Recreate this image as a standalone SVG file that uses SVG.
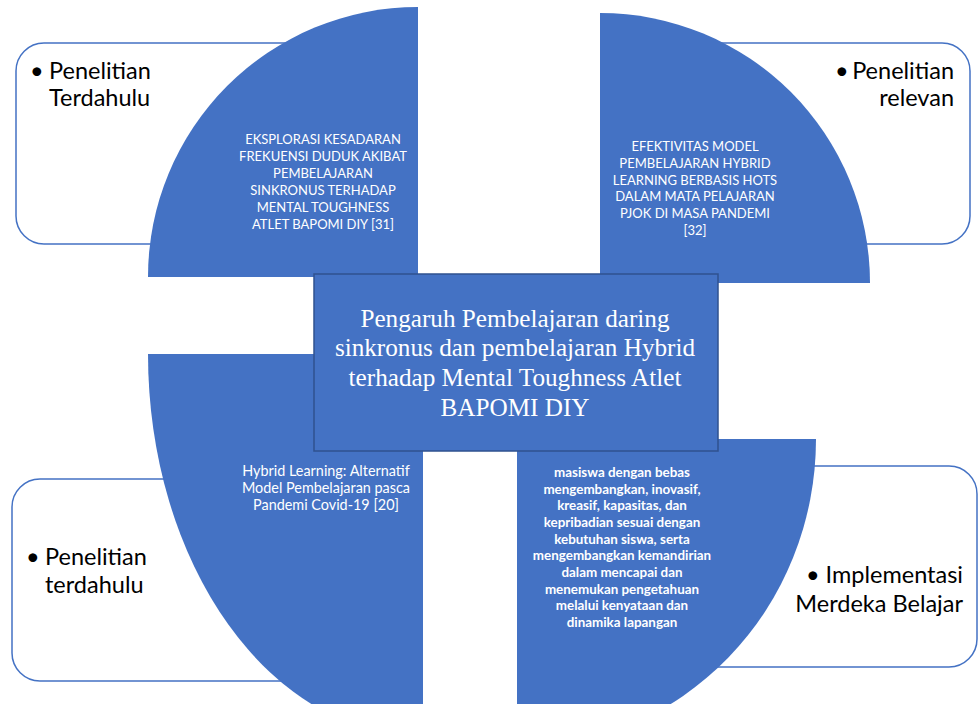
<svg xmlns="http://www.w3.org/2000/svg" width="979" height="704" viewBox="0 0 979 704">
<style>
.box{fill:#ffffff;stroke:#4472C4;stroke-width:1.5}
.sector{fill:#4472C4;stroke:none}
.lbl{font-family:Lato,"Liberation Sans",sans-serif;font-size:23.5px;fill:#000000}
.st{font-family:Lato,"Liberation Sans",sans-serif;font-size:13px;fill:#ffffff;text-anchor:middle}
.sl{font-size:14.4px}
.stb{font-weight:bold;font-size:13.4px}
.ct{font-family:"Liberation Serif","Times New Roman",serif;font-size:25.2px;fill:#ffffff;text-anchor:middle}
</style>
<rect width="979" height="704" fill="#ffffff"/>
<g id="box-tl">
<rect class="box" x="16" y="43" width="384" height="201" rx="28"/>
<text class="lbl" x="30" y="79">•</text>
<text class="lbl" x="49" y="79">Penelitian</text>
<text class="lbl" x="49" y="106">Terdahulu</text>
</g>
<g id="box-tr">
<rect class="box" x="620" y="43" width="350" height="201" rx="28"/>
<text class="lbl" x="954" y="79" text-anchor="end">Penelitian</text>
<text class="lbl" x="835" y="79">•</text>
<text class="lbl" x="954" y="106" text-anchor="end">relevan</text>
</g>
<g id="box-bl">
<rect class="box" x="12" y="479" width="390" height="202" rx="28"/>
<text class="lbl" x="26" y="565">•</text>
<text class="lbl" x="45" y="565">Penelitian</text>
<text class="lbl" x="45" y="593">terdahulu</text>
</g>
<g id="box-br">
<rect class="box" x="540" y="466" width="437" height="201" rx="28"/>
<text class="lbl" x="963" y="583" text-anchor="end">• Implementasi</text>
<text class="lbl" x="963" y="612" text-anchor="end">Merdeka Belajar</text>
</g>
<g id="sector-tl">
<path class="sector" d="M418,277 L148,277 A270,270 0 0,1 418,7 Z"/>
<text class="st" x="323" y="144">EKSPLORASI KESADARAN</text>
<text class="st" x="323" y="161">FREKUENSI DUDUK AKIBAT</text>
<text class="st" x="323" y="178">PEMBELAJARAN</text>
<text class="st" x="323" y="195">SINKRONUS TERHADAP</text>
<text class="st" x="323" y="212">MENTAL TOUGHNESS</text>
<text class="st" x="323" y="229">ATLET BAPOMI DIY [31]</text>
</g>
<g id="sector-tr">
<path class="sector" d="M600,283 L600,13 A270,270 0 0,1 870,283 Z"/>
<text class="st" x="695" y="151">EFEKTIVITAS MODEL</text>
<text class="st" x="695" y="167.8">PEMBELAJARAN HYBRID</text>
<text class="st" x="695" y="184.6">LEARNING BERBASIS HOTS</text>
<text class="st" x="695" y="201.4">DALAM MATA PELAJARAN</text>
<text class="st" x="695" y="218.2">PJOK DI MASA PANDEMI</text>
<text class="st" x="695" y="235">[32]</text>
</g>
<g id="sector-bl">
<path class="sector" d="M423,354 L148,354 A275,383 0 0,0 423,737 Z"/>
<text class="st sl" x="326" y="476">Hybrid Learning: Alternatif</text>
<text class="st sl" x="326" y="493">Model Pembelajaran pasca</text>
<text class="st sl" x="326" y="510">Pandemi Covid-19 [20]</text>
</g>
<g id="sector-br">
<path class="sector" d="M517,439 L816,439 A299,309 0 0,1 517,748 Z"/>
<text class="st stb" x="622" y="477">masiswa dengan bebas</text>
<text class="st stb" x="622" y="493.7">mengembangkan, inovasif,</text>
<text class="st stb" x="622" y="510.3">kreasif, kapasitas, dan</text>
<text class="st stb" x="622" y="527">kepribadian sesuai dengan</text>
<text class="st stb" x="622" y="543.7">kebutuhan siswa, serta</text>
<text class="st stb" x="622" y="560.3">mengembangkan kemandirian</text>
<text class="st stb" x="622" y="577">dalam mencapai dan</text>
<text class="st stb" x="622" y="593.7">menemukan pengetahuan</text>
<text class="st stb" x="622" y="610.3">melalui kenyataan dan</text>
<text class="st stb" x="622" y="627">dinamika lapangan</text>
</g>
<g id="center">
<rect x="314" y="274" width="404" height="177" fill="#4472C4" stroke="#2F528F" stroke-width="1.5"/>
<text class="ct" x="515" y="326.5">Pengaruh Pembelajaran daring</text>
<text class="ct" x="515" y="356.2">sinkronus dan pembelajaran Hybrid</text>
<text class="ct" x="515" y="385.9">terhadap Mental Toughness Atlet</text>
<text class="ct" x="515" y="415.6">BAPOMI DIY</text>
</g>
<g id="connectors"/>
</svg>
